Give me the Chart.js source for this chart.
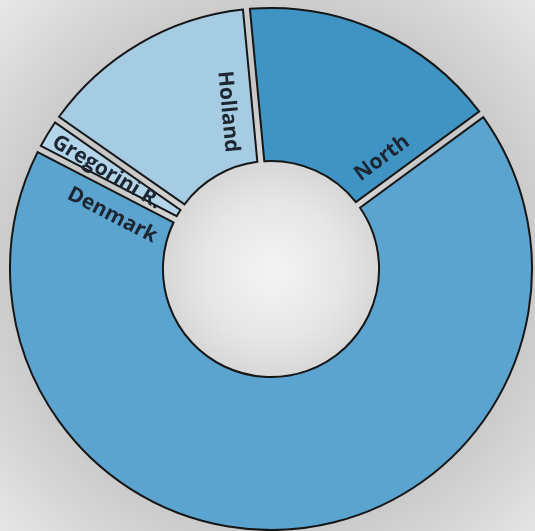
<!DOCTYPE html>
<html>
<head>
<meta charset="utf-8">
<script src="https://cdn.jsdelivr.net/npm/chart.js@4"></script>
<style>
    html, body {
        margin: 0;
        padding: 0;
    }
    body {
        width: 535px;
        height: 531px;
        overflow: hidden;
        /* scanned-paper look: pale hole, grey ring gaps, light corners */
        background: radial-gradient(circle at 51% 51%, #f4f4f4 0%, #e6e6e6 18%, #d4d4d4 30%, #c6c6c6 50%, #cbcbcb 68%, #e8e8e8 100%);
    }
</style>
</head>
<body>
<canvas id="donut" width="535" height="531"></canvas>
<script>
document.addEventListener("DOMContentLoaded", function () {

    const regions = ["North", "Denmark", "Gregorini R.", "Holland"];
    const shares = [16.4, 67.7, 2.1, 13.8];

    const fills = [
        "#3f94c4", // North, deep blue
        "#5aa4cf", // Denmark
        "#b3d5e9", // Gregorini R., palest
        "#a5cce3"  // Holland
    ];

    const outline = "#161616";
    const halfGap = 3.5;

    // where each label sits: degrees back from the slice end, fraction across the ring,
    // edge the text lines up with, and whether it reads toward the centre
    const labelSpots = [
        { back: 8.6, ring: 0.32, edge: "end", inward: false },
        { back: 8.7, ring: 0.39, edge: "end", inward: true },
        { back: 4.4, ring: 0.54, edge: "mid", inward: true },
        { back: 9.9, ring: 0.36, edge: "end", inward: true }
    ];

    // slices drawn with parallel-sided gaps, like the printed original
    const gappedSlices = {
        id: "gappedSlices",
        beforeDatasetDraw() {
            return false;
        },
        afterDatasetsDraw(chart) {
            const ctx = chart.ctx;
            const meta = chart.getDatasetMeta(0);
            meta.data.forEach(function (arc) {
                const p = arc.getProps(["x", "y", "startAngle", "endAngle", "innerRadius", "outerRadius"], true);
                const R = p.outerRadius, r = p.innerRadius;
                const dO = Math.asin(halfGap / R);
                const dI = Math.asin(halfGap / r);
                ctx.save();
                ctx.beginPath();
                ctx.arc(p.x, p.y, R, p.startAngle + dO, p.endAngle - dO);
                ctx.arc(p.x, p.y, r, p.endAngle - dI, p.startAngle + dI, true);
                ctx.closePath();
                ctx.fillStyle = arc.options.backgroundColor;
                ctx.fill();
                ctx.lineWidth = 2;
                ctx.lineJoin = "miter";
                ctx.strokeStyle = outline;
                ctx.stroke();
                ctx.restore();
            });

            meta.data.forEach(function (arc, i) {
                const p = arc.getProps(["x", "y", "startAngle", "endAngle", "innerRadius", "outerRadius"], true);
                const spot = labelSpots[i];
                const a = p.endAngle - spot.back * Math.PI / 180;
                const rr = p.innerRadius + (p.outerRadius - p.innerRadius) * spot.ring;
                let rot = spot.edge === "mid" ? (p.startAngle + p.endAngle) / 2 : p.endAngle;
                if (spot.inward) rot += Math.PI;
                ctx.save();
                ctx.translate(p.x + Math.cos(a) * rr, p.y + Math.sin(a) * rr);
                ctx.rotate(rot);
                ctx.font = "bold 21px 'Open Sans', 'Noto Sans', sans-serif";
                ctx.fillStyle = "#1d2630";
                ctx.textAlign = "center";
                ctx.textBaseline = "middle";
                ctx.fillText(regions[i], 0, 0);
                ctx.restore();
            });
        }
    };

    new Chart(document.getElementById("donut"), {
        type: "doughnut",
        data: {
            labels: regions,
            datasets: [{
                data: shares,
                backgroundColor: fills,
                borderColor: outline,
                borderWidth: 0
            }]
        },
        options: {
            responsive: false,
            animation: false,
            rotation: -5.4,
            cutout: "41.4%",
            layout: {
                padding: { left: 10, top: 8, right: 3, bottom: 1 }
            },
            plugins: {
                legend: { display: false },
                tooltip: { enabled: false }
            }
        },
        plugins: [gappedSlices]
    });

});
</script>
</body>
</html>
